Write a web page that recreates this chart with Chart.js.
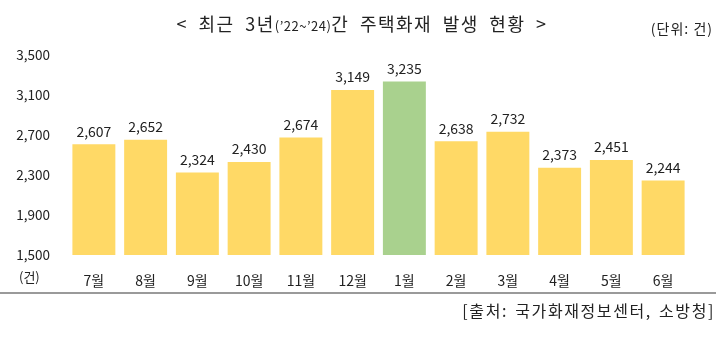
<!DOCTYPE html>
<html><head><meta charset="utf-8">
<script src="https://cdn.jsdelivr.net/npm/chart.js@4"></script>
<style>
html,body{margin:0;padding:0;background:#fff;}
#wrap{position:relative;width:720px;height:356px;overflow:hidden;font-family:"Noto Sans CJK KR","Noto Sans",sans-serif;color:#222;}
#c{position:absolute;left:0;top:0;}
.t{position:absolute;white-space:nowrap;}
</style></head><body>
<div id="wrap">
<canvas id="c" width="720" height="356"></canvas>
<div class="t" id="title" style="left:0;width:724px;text-align:center;top:10px;font-size:18px;letter-spacing:1.5px;word-spacing:5px;">&lt; 최근 3년<span style="font-size:13px;letter-spacing:0.5px">(’22~’24)</span>간 주택화재 발생 현황 &gt;</div>
<div class="t" style="right:7px;top:18px;font-size:14px;letter-spacing:1px;">(단위: 건)</div>
<div class="t" style="left:19px;top:267px;font-size:13px;">(건)</div>
<div style="position:absolute;left:0;width:716px;top:292px;height:2px;background:#9a9a9a;"></div>
<div class="t" style="right:5px;top:298px;font-size:16px;letter-spacing:1.6px;word-spacing:2px;">[출처: 국가화재정보센터, 소방청]</div>
</div>
<script>
const categories = ["7월","8월","9월","10월","11월","12월","1월","2월","3월","4월","5월","6월"];
const fires = [2607,2652,2324,2430,2674,3149,3235,2638,2732,2373,2451,2244];
const yTicks = [1500,1900,2300,2700,3100,3500];
const barColors = categories.map(c => c === "1월" ? "#a9d18e" : "#ffd966");
const FONT = '"Noto Sans CJK KR","Noto Sans",sans-serif';

const labelPlugin = {
  id: 'vals',
  afterDatasetsDraw(chart){
    const ctx = chart.ctx;
    const meta = chart.getDatasetMeta(0);
    ctx.save();
    ctx.font = '14px ' + FONT;
    ctx.fillStyle = '#222';
    ctx.textAlign = 'center';
    ctx.textBaseline = 'bottom';
    meta.data.forEach((bar, i) => {
      ctx.fillText(fires[i].toLocaleString('en-US'), bar.x, bar.y - 6);
    });
    ctx.restore();
  }
};

new Chart(document.getElementById('c'), {
  type: 'bar',
  data: { labels: categories, datasets: [{ data: fires, backgroundColor: barColors, categoryPercentage: 1, barPercentage: 0.83 }] },
  options: {
    responsive: false, animation: false,
    layout: { padding: { top: 55, right: 31, bottom: 56, left: 0 } },
    plugins: { legend: { display: false }, tooltip: { enabled: false }, title: { display: false } },
    scales: {
      x: {
        grid: { display: false, drawTicks: false }, border: { display: false },
        ticks: { font: { size: 14, family: FONT }, color: '#222', padding: 17 },
        afterFit(s){ s.height = 45; }
      },
      y: {
        min: 1500, max: 3500,
        grid: { display: false, drawTicks: false }, border: { display: false },
        afterBuildTicks(s){ s.ticks = yTicks.map(v => ({ value: v })); },
        ticks: { font: { size: 13.5, family: FONT }, color: '#222', padding: 18,
          callback: v => v.toLocaleString('en-US') },
        afterFit(s){ s.width = 68; }
      }
    }
  },
  plugins: [labelPlugin]
});
</script>
</body></html>
